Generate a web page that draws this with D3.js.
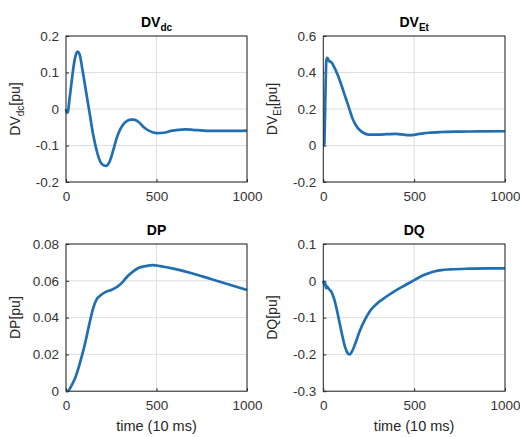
<!DOCTYPE html>
<html><head><meta charset="utf-8">
<script src="https://cdn.jsdelivr.net/npm/d3@7"></script>
<style>body{margin:0;background:#fff}svg{display:block}text{font-family:"Liberation Sans",Arial,sans-serif}</style>
</head><body><svg id="c" width="520" height="437"></svg>
<script>
const xTicks = [0, 500, 1000];

const dvdcX = [0,5,10,20,30,40,50,63,75,90,110,130,150,170,190,210,222,240,260,280,300,320,340,360,375,400,430,460,500,540,580,620,660,700,760,820,900,1000];
const dvdcY = [0,-0.01,-0.008,0.03,0.07,0.11,0.14,0.157,0.15,0.11,0.05,-0.01,-0.07,-0.115,-0.145,-0.155,-0.156,-0.145,-0.115,-0.08,-0.055,-0.04,-0.032,-0.029,-0.029,-0.035,-0.05,-0.06,-0.066,-0.065,-0.06,-0.057,-0.056,-0.057,-0.059,-0.06,-0.06,-0.059];
const dvdcTicks = [0.2, 0.1, 0, -0.1, -0.2];

const dvetX = [0,5,8,12,17,22,30,45,60,80,100,120,140,160,180,200,220,250,300,350,400,450,480,520,580,650,750,850,1000];
const dvetY = [0,0,0.1,0.3,0.47,0.48,0.465,0.455,0.43,0.385,0.33,0.27,0.21,0.15,0.11,0.085,0.07,0.06,0.06,0.062,0.064,0.058,0.057,0.062,0.07,0.074,0.076,0.077,0.078];
const dvetTicks = [0.6, 0.4, 0.2, 0, -0.2];

const dpX = [0,15,30,50,70,90,110,130,150,170,190,220,250,280,310,340,370,400,440,480,520,600,700,800,900,1000];
const dpY = [0,0.0005,0.003,0.007,0.013,0.02,0.028,0.037,0.045,0.05,0.052,0.054,0.055,0.0565,0.059,0.0625,0.065,0.067,0.068,0.0685,0.068,0.0665,0.064,0.061,0.058,0.055];
const dpTicks = [0.08, 0.06, 0.04, 0.02, 0];

const dqX = [0,5,10,15,20,30,45,60,75,90,105,120,135,145,160,180,200,230,260,300,350,400,450,500,550,600,650,700,800,900,1000];
const dqY = [0,-0.01,-0.005,-0.02,-0.015,-0.022,-0.03,-0.05,-0.08,-0.115,-0.15,-0.18,-0.197,-0.2,-0.19,-0.165,-0.137,-0.105,-0.08,-0.06,-0.042,-0.026,-0.012,0.002,0.015,0.024,0.029,0.031,0.033,0.034,0.034];
const dqTicks = [0.1, 0, -0.1, -0.2, -0.3];

const svg = d3.select("#c");
const fmt = v => (Math.abs(v) < 1e-12 ? "0" : String(+v.toFixed(4)).replace("\u2212","-"));

const panels = [
  {x:dvdcX, y:dvdcY, ticks:dvdcTicks, title:["DV","dc"], ylab:["DV","dc","[pu]"], xl:false, box:[66,36,247,182]},
  {x:dvetX, y:dvetY, ticks:dvetTicks, title:["DV","Et"], ylab:["DV","Et","[pu]"], xl:false, box:[323.3,36,505,182]},
  {x:dpX, y:dpY, ticks:dpTicks, title:["DP",""], ylab:["DP","","[pu]"], xl:true, box:[66,244,247,391.2]},
  {x:dqX, y:dqY, ticks:dqTicks, title:["DQ",""], ylab:["DQ","","[pu]"], xl:true, box:[323.3,244,505,391.2]}
];

panels.forEach(p => {
  const [l,t,r,b] = p.box;
  const xs = d3.scaleLinear().domain([0,1000]).range([l,r]);
  const ys = d3.scaleLinear().domain([d3.min(p.ticks), d3.max(p.ticks)]).range([b,t]);
  const g = svg.append("g");
  g.selectAll(".gx").data(xTicks).enter().append("line")
    .attr("x1",d=>xs(d)).attr("x2",d=>xs(d)).attr("y1",t).attr("y2",b)
    .attr("stroke","#dedede").attr("stroke-width",1);
  g.selectAll(".gy").data(p.ticks).enter().append("line")
    .attr("x1",l).attr("x2",r).attr("y1",d=>ys(d)).attr("y2",d=>ys(d))
    .attr("stroke","#dedede").attr("stroke-width",1);
  const xa = d3.axisBottom(xs).tickValues(xTicks).tickSizeInner(-3).tickSizeOuter(0).tickPadding(9).tickFormat(d=>String(d));
  const ya = d3.axisLeft(ys).tickValues(p.ticks).tickSizeInner(-3).tickSizeOuter(0).tickPadding(7).tickFormat(fmt);
  const gx = g.append("g").attr("transform",`translate(0,${b})`).call(xa);
  const gy = g.append("g").attr("transform",`translate(${l},0)`).call(ya);
  [gx,gy].forEach(a=>{
    a.select(".domain").remove();
    a.selectAll("line").attr("stroke","#262626");
    a.selectAll("text").attr("fill","#333").style("font-size","13.5px").style("font-family","'Liberation Sans',Arial,sans-serif");
  });
  const line = d3.line().x((d,i)=>xs(p.x[i])).y(d=>ys(d)).curve(d3.curveMonotoneX);
  g.append("path").datum(p.y).attr("d",line).attr("fill","none")
    .attr("stroke","#1f6fb2").attr("stroke-width",2.7).attr("stroke-linejoin","round");
  g.append("rect").attr("x",l).attr("y",t).attr("width",r-l).attr("height",b-t)
    .attr("fill","none").attr("stroke","#262626").attr("stroke-width",1);
  const tt = g.append("text").attr("x",(l+r)/2).attr("y",t-9).attr("text-anchor","middle")
    .attr("fill","#000").style("font-weight","bold").style("font-size","14px");
  tt.append("tspan").text(p.title[0]);
  if (p.title[1]) tt.append("tspan").attr("dy",4).style("font-size","10px").text(p.title[1]);
  const yl = g.append("text").attr("transform",`translate(${l-46},${(t+b)/2}) rotate(-90)`)
    .attr("text-anchor","middle").attr("fill","#262626").style("font-size","14px");
  yl.append("tspan").text(p.ylab[0]);
  if (p.ylab[1]) {
    yl.append("tspan").attr("dy",4).style("font-size","10px").text(p.ylab[1]);
    yl.append("tspan").attr("dy",-4).text(p.ylab[2]);
  } else yl.append("tspan").text(p.ylab[2]);
  if (p.xl) {
    g.append("text").attr("x",(l+r)/2).attr("y",b+40).attr("text-anchor","middle")
      .attr("fill","#262626").style("font-size","14.5px").text("time (10 ms)");
  }
});
</script></body></html>
